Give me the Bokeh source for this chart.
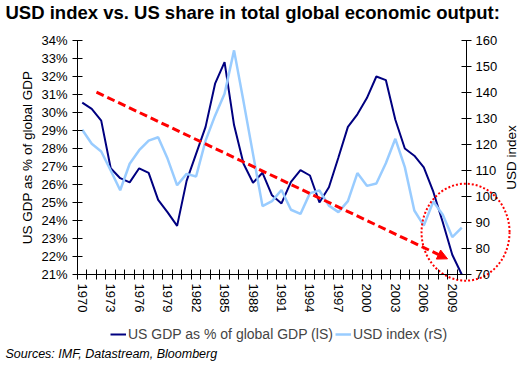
import math
from bokeh.plotting import figure
from bokeh.models import (Range1d, LinearAxis, FixedTicker, PrintfTickFormatter,
                          Legend, LegendItem, Arrow, NormalHead, Label)
from bokeh.embed import file_html
from bokeh.resources import INLINE

# ---------------- data ----------------
years = list(range(1970, 2011))
gdp_share = [30.55, 30.2, 29.55, 26.9, 26.35, 26.12, 26.9, 26.65, 25.15, 24.45,
             23.7, 26.2, 27.7, 29.2, 31.6, 32.8, 29.3, 27.15, 26.1, 26.65,
             25.4, 24.95, 26.15, 26.8, 26.5, 25.0, 25.85, 27.5, 29.2, 29.9,
             30.8, 32.0, 31.8, 29.6, 28.0, 27.6, 26.95, 25.6, 23.9, 22.1, 21.0]
usd_index = [125.7, 120.3, 117.3, 110.0, 102.4, 112.6, 117.8, 121.5, 122.8, 114.5,
             104.3, 108.7, 107.7, 121.5, 131.1, 139.5, 156.2, 136.5, 116.3, 96.3,
             98.2, 102.5, 94.9, 93.3, 101.3, 102.3, 96.5, 94.0, 98.2, 109.0,
             104.1, 105.0, 112.8, 122.2, 111.3, 94.6, 88.8, 98.1, 93.0, 84.4, 88.0]
label_years = list(range(1970, 2010, 3))
left_ticks = list(range(21, 35))
right_ticks = list(range(70, 161, 10))
trend_start = (1971.5, 31.13)
trend_end = (2008.5, 21.87)
highlight_center = (2010.4, 23.35)   # year, percent

series_names = ["US GDP as % of global GDP (lS)", "USD index (rS)"]
title_text = "USD index vs. US share in total global economic output:"
source_text = "Sources: IMF, Datastream, Bloomberg"
left_label = "US GDP as % of global GDP"
right_label = "USD index"

# ---------------- layout / style ----------------
W, H = 522, 365
AL, AR, AT, AB = 77, 466, 40, 274          # axis box edges in page pixels
X0, X1 = years[0] - 0.5, years[-1] + 0.5
Y0, Y1 = left_ticks[0], left_ticks[-1]
R0, R1 = right_ticks[0], right_ticks[-1]
kx = (X1 - X0) / (AR - AL)
ky = (Y1 - Y0) / (AB - AT)
kr = (R1 - R0) / (AB - AT)
FONT = "Liberation Sans"
DARK = "#000080"
LIGHT = "#99CCFF"
RED = "#FF0000"

# the frame covers the whole canvas; axes are pinned at the chart box edges
p = figure(width=W, height=H, output_backend="svg", toolbar_location=None,
           x_range=Range1d(X0 - AL * kx, X1 + (W - AR) * kx),
           y_range=Range1d(Y0 - (H - AB) * ky, Y1 + AT * ky),
           min_border=0, background_fill_color="white", border_fill_color="white")
p.extra_y_ranges = {"usd": Range1d(R0 - (H - AB) * kr, R1 + AT * kr)}
p.xgrid.visible = False
p.ygrid.visible = False
p.outline_line_color = None

# x axis
xa = p.xaxis[0]
xa.fixed_location = Y0
xa.bounds = (X0, X1)
xa.ticker = FixedTicker(ticks=label_years,
                        minor_ticks=[y - 0.5 for y in years] + [X1])
xa.major_tick_in = 0
xa.major_tick_out = 0
xa.minor_tick_in = 5
xa.minor_tick_out = 5
xa.minor_tick_line_color = "black"
xa.major_label_orientation = "vertical"
xa.major_label_standoff = 4
xa.major_label_text_font = FONT
xa.major_label_text_font_size = "13px"
xa.major_label_text_color = "black"
xa.axis_line_color = "black"

# left axis
ya = p.yaxis[0]
ya.fixed_location = X0
ya.bounds = (Y0, Y1)
ya.ticker = FixedTicker(ticks=left_ticks)
ya.formatter = PrintfTickFormatter(format="%d%%")
ya.major_tick_in = 5
ya.major_tick_out = 5
ya.minor_tick_in = 0
ya.minor_tick_out = 0
ya.major_label_standoff = 5
ya.major_label_text_font = FONT
ya.major_label_text_font_size = "13px"
ya.major_label_text_color = "black"
ya.axis_label = left_label
ya.axis_label_text_font = FONT
ya.axis_label_text_font_style = "normal"
ya.axis_label_text_font_size = "13.5px"
ya.axis_label_standoff = 3
ya.axis_label_text_color = "black"

# right axis
ra = LinearAxis(y_range_name="usd", ticker=FixedTicker(ticks=right_ticks),
                fixed_location=X1, bounds=(R0, R1))
ra.major_tick_in = 5
ra.major_tick_out = 5
ra.minor_tick_in = 0
ra.minor_tick_out = 0
ra.major_label_standoff = 4
ra.major_label_text_font = FONT
ra.major_label_text_font_size = "13px"
ra.major_label_text_color = "black"
p.add_layout(ra, "right")

# lines
r1 = p.line(years, gdp_share, line_color=DARK, line_width=2)
r2 = p.line(years, usd_index, y_range_name="usd", line_color=LIGHT, line_width=2.5)

# trend arrow
p.add_layout(Arrow(x_start=trend_start[0], y_start=trend_start[1],
                   x_end=trend_end[0], y_end=trend_end[1],
                   line_color=RED, line_width=3, line_dash="8 4",
                   end=NormalHead(size=10, fill_color=RED, line_color=RED, line_width=1)))

# dotted highlight ring
p.ellipse(x=[highlight_center[0]], y=[highlight_center[1]], width=88, height=97,
          width_units="screen", height_units="screen", fill_color=None,
          line_color=RED, line_width=2, line_dash="2 2")

# legend
legend = Legend(items=[LegendItem(label=series_names[0], renderers=[r1]),
                       LegendItem(label=series_names[1], renderers=[r2])],
                orientation="horizontal", location=(110, H - 342),
                label_text_font=FONT, label_text_font_size="14px",
                glyph_width=16, glyph_height=10, label_standoff=2, spacing=2,
                padding=0, margin=0, border_line_color=None,
                background_fill_alpha=0)
p.add_layout(legend)

# texts in canvas pixels (y measured from the bottom)
p.add_layout(Label(x=5, y=H - 12, x_units="screen", y_units="screen", text=title_text,
                   text_font=FONT, text_font_style="bold", text_font_size="18.5px",
                   text_baseline="middle", text_color="black"))
p.add_layout(Label(x=511, y=H - (AT + AB) / 2, x_units="screen", y_units="screen",
                   text=right_label, angle=math.pi / 2, text_align="center",
                   text_baseline="middle", text_font=FONT, text_font_size="13.5px",
                   text_color="black"))
p.add_layout(Label(x=5, y=H - 353, x_units="screen", y_units="screen", text=source_text,
                   text_font=FONT, text_font_style="italic", text_font_size="12.5px",
                   text_baseline="middle", text_color="black"))

open("out.html", "w").write(file_html(p, INLINE))
